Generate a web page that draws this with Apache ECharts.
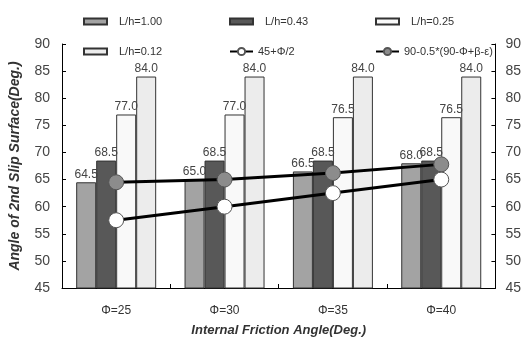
<!DOCTYPE html>
<html>
<head>
<meta charset="utf-8">
<script src="https://cdn.jsdelivr.net/npm/echarts@6/dist/echarts.min.js"></script>
<style>
  html, body { margin: 0; padding: 0; background: #fff; }
  #chart { width: 524px; height: 345px; }
</style>
</head>
<body>
<div id="chart"></div>
<script>
  // data
  var categories = ['Φ=25', 'Φ=30', 'Φ=35', 'Φ=40'];
  var lh100 = [64.5, 65.0, 66.5, 68.0];
  var lh043 = [68.5, 68.5, 68.5, 68.5];
  var lh025 = [77.0, 77.0, 76.5, 76.5];
  var lh012 = [84.0, 84.0, 84.0, 84.0];
  var rankine = [57.5, 60.0, 62.5, 65.0];
  var modified = [64.5, 65.0, 66.2, 67.8];

  var myChart = echarts.init(document.getElementById('chart'));
  var font = 'Liberation Sans';

  function barSeries(name, color, data) {
    return {
      name: name,
      type: 'bar',
      data: data,
      barWidth: 20,
      barGap: '0%',
      itemStyle: { color: color, borderColor: '#333', borderWidth: 1 },
      label: {
        show: true,
        position: 'top',
        distance: 2,
        color: '#444',
        fontFamily: font,
        fontSize: 12,
        formatter: function (p) { return p.value.toFixed(1); }
      },
      z: 2
    };
  }

  function lineSeries(name, fill, data) {
    return {
      name: name,
      type: 'line',
      data: data,
      symbol: 'circle',
      symbolSize: 15,
      lineStyle: { color: '#000', width: 3 },
      itemStyle: { color: fill, borderColor: '#555', borderWidth: 1 },
      z: 5
    };
  }

  // one legend per entry so the 3x2 layout lines up
  var legendPos = [
    ['L/h=1.00', 78, 11], ['L/h=0.43', 224, 11], ['L/h=0.25', 370, 11],
    ['L/h=0.12', 78, 41], ['45+Φ/2', 224, 41], ['90-0.5*(90-Φ+β-ε)', 370, 41]
  ];
  var legends = legendPos.map(function (l, i) {
    var isBar = i !== 4 && i !== 5;
    return {
      data: [isBar ? { name: l[0], icon: 'rect' } : { name: l[0] }],
      left: l[1],
      top: l[2],
      itemWidth: 23,
      itemHeight: isBar ? 6 : 9,
      itemGap: 0,
      textStyle: { fontFamily: font, fontSize: 11, color: '#333', padding: [0, 0, 0, isBar ? 7 : 0] }
    };
  });

  option = {
    animation: false,
    backgroundColor: '#fff',
    legend: legends,
    grid: { left: 62, right: 22, top: 44, bottom: 57 },
    xAxis: {
      type: 'category',
      data: categories,
      name: 'Internal Friction Angle(Deg.)',
      nameLocation: 'middle',
      nameGap: 36,
      nameTextStyle: { fontFamily: font, fontSize: 13, fontStyle: 'italic', fontWeight: 'bold', color: '#333' },
      axisLine: { lineStyle: { color: '#000', width: 1 } },
      axisTick: { show: true, inside: true, length: 4, lineStyle: { color: '#000' } },
      axisLabel: { fontFamily: font, fontSize: 12, color: '#333', margin: 17 }
    },
    yAxis: [
      {
        type: 'value', min: 45, max: 90, interval: 5,
        name: 'Angle of 2nd Slip Surface(Deg.)',
        nameLocation: 'middle',
        nameGap: 40,
        nameTextStyle: { fontFamily: font, fontSize: 14, fontStyle: 'italic', fontWeight: 'bold', color: '#333' },
        axisLine: { show: true, lineStyle: { color: '#000' } },
        axisTick: { show: true, inside: true, length: 4, lineStyle: { color: '#000' } },
        axisLabel: { fontFamily: font, fontSize: 14, color: '#444', margin: 12 },
        splitLine: { show: false }
      },
      {
        type: 'value', min: 45, max: 90, interval: 5, position: 'right',
        axisLine: { show: true, lineStyle: { color: '#000' } },
        axisTick: { show: true, inside: true, length: 4, lineStyle: { color: '#000' } },
        axisLabel: { fontFamily: font, fontSize: 14, color: '#444', margin: 10 },
        splitLine: { show: false }
      }
    ],
    series: [
      barSeries('L/h=1.00', '#a3a3a3', lh100),
      barSeries('L/h=0.43', '#585858', lh043),
      barSeries('L/h=0.25', '#f9f9f9', lh025),
      barSeries('L/h=0.12', '#ececec', lh012),
      lineSeries('45+Φ/2', '#fff', rankine),
      lineSeries('90-0.5*(90-Φ+β-ε)', '#8c8c8c', modified)
    ]
  };
  myChart.setOption(option);
</script>
</body>
</html>
